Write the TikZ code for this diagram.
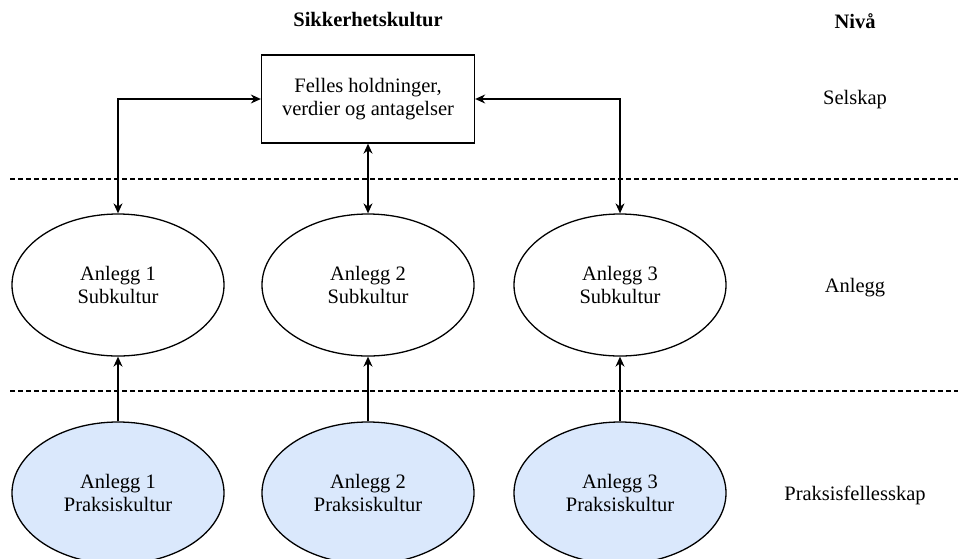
\documentclass[tikz,border=0pt]{standalone}
\usepackage{fontspec}
\setmainfont{Liberation Serif}
\usetikzlibrary{arrows.meta,shapes.geometric}

\begin{document}
\begin{tikzpicture}[x=1pt, y=-1pt, every node/.style={font=\fontsize{20.5}{23}\selectfont}, >={Stealth[length=10pt, width=9pt]}, line width=1.3pt, sub/.style={draw, ellipse, minimum width=212pt, minimum height=142pt, inner sep=0pt, align=center}, prak/.style={sub, fill=praksisblue}, lvl/.style={align=center}]
	\definecolor{praksisblue}{HTML}{DAE8FC}
	\useasboundingbox (0,0) rectangle (958,558);
	\node[font=\fontsize{20.5}{23}\selectfont\bfseries] (title) at (368,20) {Sikkerhetskultur};
	\node[font=\fontsize{20.5}{23}\selectfont\bfseries] (niva) at (855,21) {Nivå};
	\node[draw, minimum width=213pt, minimum height=88pt, align=center] (felles) at (368,99) {Felles holdninger,\\verdier og antagelser};
	\foreach \i/\x in {1/118,2/368,3/620} {\node[sub] (a\i) at (\x,285) {Anlegg \i\\Subkultur};}
	\foreach \i/\x in {1/118,2/368,3/620} {\node[prak] (p\i) at (\x,493) {Anlegg \i\\Praksiskultur};}
	\node[lvl] (selskap) at (855,100) {Selskap};
	\node[lvl] (anlegg) at (855,288) {Anlegg};
	\node[lvl] (praksis) at (855,495) {Praksisfellesskap};
	\draw[dash pattern=on 5pt off 3pt, line width=1.2pt] (10,179) -- (958,179);
	\draw[dash pattern=on 5pt off 3pt, line width=1.2pt] (10,391) -- (958,391);
	\draw[<->] (a1.north) |- (felles.west);
	\draw[<->] (felles.south) -- (a2.north);
	\draw[<->] (a3.north) |- (felles.east);
	\foreach \i in {1,2,3} {\draw[->] (p\i.north) -- (a\i.south);}
\end{tikzpicture}
\end{document}
